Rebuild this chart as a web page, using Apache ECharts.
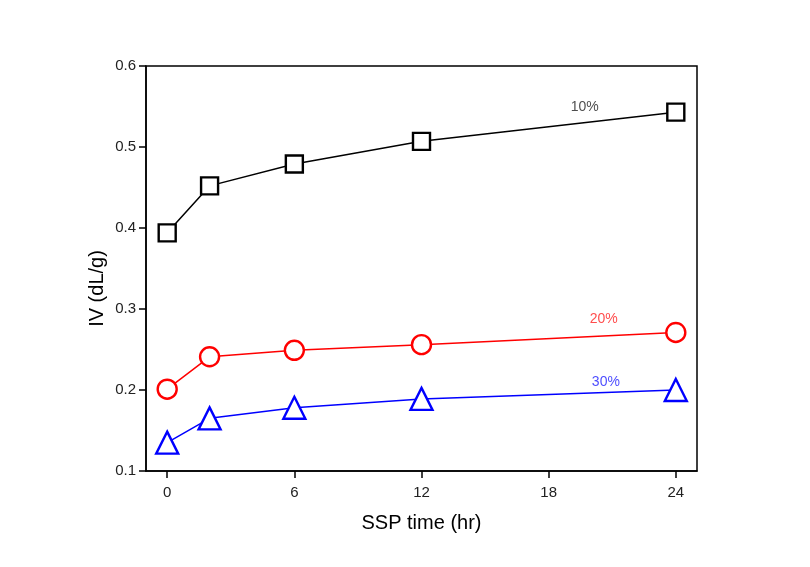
<!DOCTYPE html>
<html><head><meta charset="utf-8">
<script src="https://cdn.jsdelivr.net/npm/echarts@6/dist/echarts.min.js"></script>
<style>html,body{margin:0;padding:0;background:#fff}#c{width:810px;height:567px}</style>
</head><body><div id="c"></div>
<script>
const hours = [0, 2, 6, 12, 24];
const iv10 = [0.394, 0.452, 0.479, 0.507, 0.543];
const iv20 = [0.201, 0.241, 0.249, 0.256, 0.271];
const iv30 = [0.135, 0.165, 0.178, 0.189, 0.200];
const labelNames = ['10%', '20%', '30%'];
const labelPos = [[19.7, 0.549], [20.6, 0.287], [20.7, 0.210]];
const colors = ['#000000', '#ff0000', '#0000ff'];
const labelColors = ['#222222', '#ff2020', '#2020ff'];
const xTicks = [0, 6, 12, 18, 24];

const chart = echarts.init(document.getElementById('c'));
const font = 'Liberation Sans, Arial, sans-serif';
function mk(name, vals, sym, size, col) {
  return {
    name, type: 'line', data: hours.map((h, i) => [h, vals[i]]),
    symbol: sym, symbolSize: size, showAllSymbol: true,
    lineStyle: { color: col, width: 1.5 },
    itemStyle: { color: '#fff', borderColor: col, borderWidth: 2.4 },
    z: 3
  };
}
chart.setOption({
  animation: false,
  grid: { left: 146, top: 66, right: 113, bottom: 96, show: true, borderColor: '#000', borderWidth: 1.5, backgroundColor: 'transparent' },
  xAxis: {
    type: 'value', min: -1, max: 25,
    name: 'SSP time (hr)', nameLocation: 'middle', nameGap: 42, nameMoveOverlap: false,
    nameTextStyle: { fontFamily: font, fontSize: 20, color: '#000' },
    axisLine: { onZero: false, lineStyle: { color: '#000', width: 1.5 } },
    axisTick: { show: true, length: 7, lineStyle: { color: '#000', width: 1.5 }, customValues: xTicks },
    axisLabel: { fontFamily: font, fontSize: 15, color: '#222', margin: 14, customValues: xTicks },
    splitLine: { show: false }
  },
  yAxis: {
    type: 'value', min: 0.1, max: 0.6, interval: 0.1,
    name: 'IV (dL/g)', nameLocation: 'middle', nameGap: 39, nameMoveOverlap: false,
    nameTextStyle: { fontFamily: font, fontSize: 20, color: '#000', padding: [0, 40, 0, 0] },
    axisLine: { onZero: false, lineStyle: { color: '#000', width: 1.5 } },
    axisTick: { show: true, length: 7, lineStyle: { color: '#000', width: 1.5 } },
    axisLabel: { fontFamily: font, fontSize: 15, color: '#222', margin: 10, formatter: v => v.toFixed(1) },
    splitLine: { show: false }
  },
  series: [
    mk('10%', iv10, 'rect', 17, colors[0]),
    mk('20%', iv20, 'circle', 19, colors[1]),
    mk('30%', iv30, 'triangle', 22, colors[2]),
    {
      type: 'scatter', symbolSize: 0, silent: true,
      data: labelNames.map((n, i) => ({ value: labelPos[i], name: n,
        label: { show: true, position: 'inside', formatter: n, color: labelColors[i], fontFamily: font, fontSize: 14 } }))
    }
  ]
});
</script></body></html>
